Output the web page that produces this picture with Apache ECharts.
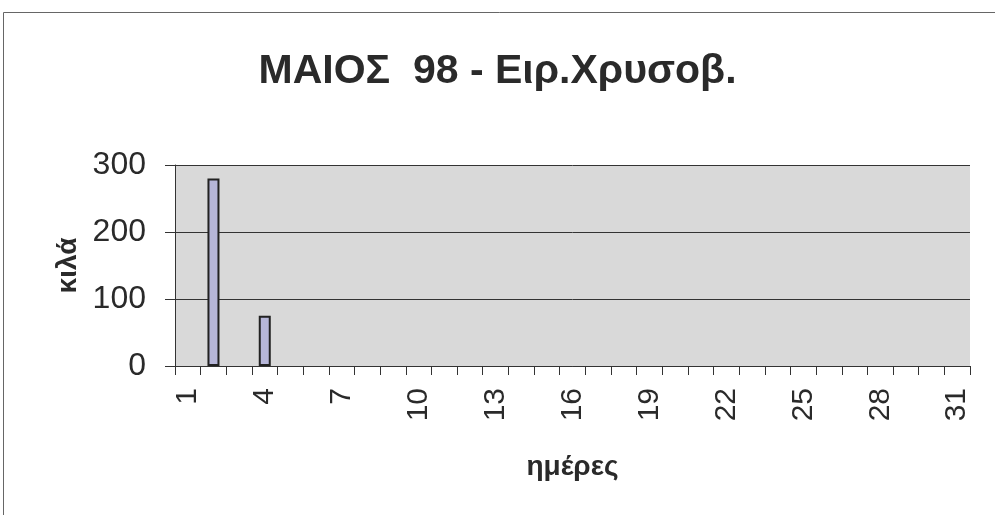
<!DOCTYPE html>
<html>
<head>
<meta charset="utf-8">
<script src="https://cdn.jsdelivr.net/npm/echarts@6/dist/echarts.min.js"></script>
<style>html,body{margin:0;padding:0;background:#fff;}#c{width:995px;height:515px;}</style>
</head>
<body>
<div id="c"></div>
<script>
const titleText = 'ΜΑΙΟΣ  98 - Ειρ.Χρυσοβ.';
const yName = 'κιλά';
const xName = 'ημέρες';
const days = Array.from({length: 31}, (_, i) => String(i + 1));
const kilos = [null, 280, null, 75, null, null, null, null, null, null, null, null, null, null, null, null, null, null, null, null, null, null, null, null, null, null, null, null, null, null, null];

const chart = echarts.init(document.getElementById('c'));
const font = '"Liberation Sans", Arial, sans-serif';
chart.setOption({
  animation: false,
  backgroundColor: '#fff',
  title: {
    text: titleText, left: 'center', top: 46,
    textStyle: {fontFamily: font, fontSize: 41, fontWeight: 'bold', color: '#2a2a2a'}
  },
  graphic: [{
    type: 'rect', shape: {x: 3.5, y: 12.5, width: 1000, height: 520},
    style: {fill: 'none', stroke: '#666', lineWidth: 1}, silent: true
  }],
  grid: {left: 175, right: 25, top: 165, bottom: 149, show: true, backgroundColor: '#d9d9d9', borderWidth: 0},
  xAxis: {
    type: 'category', data: days,
    name: xName, nameLocation: 'middle', nameGap: 87, nameMoveOverlap: false,
    nameTextStyle: {fontFamily: font, fontSize: 28, fontWeight: 'bold', color: '#2a2a2a'},
    axisLine: {lineStyle: {color: '#333', width: 1}},
    axisTick: {show: true, interval: 0, length: 9, lineStyle: {color: '#333'}},
    axisLabel: {interval: 2, rotate: 90, fontFamily: font, fontSize: 30, color: '#2a2a2a', margin: 22}
  },
  yAxis: {
    type: 'value', min: 0, max: 300, interval: 100,
    name: yName, nameLocation: 'middle', nameGap: 93, nameRotate: 90, nameMoveOverlap: false,
    nameTextStyle: {fontFamily: font, fontSize: 28, fontWeight: 'bold', color: '#2a2a2a'},
    axisLine: {show: true, lineStyle: {color: '#333'}},
    axisTick: {show: true, length: 10, lineStyle: {color: '#333'}},
    axisLabel: {fontFamily: font, fontSize: 32, color: '#2a2a2a', margin: 29},
    splitLine: {show: true, lineStyle: {color: '#333', width: 1}}
  },
  series: [{
    type: 'bar', data: kilos, barWidth: 12,
    itemStyle: {color: '#b6b6d8', borderColor: '#222', borderWidth: 2}
  }]
});
</script>
</body>
</html>
